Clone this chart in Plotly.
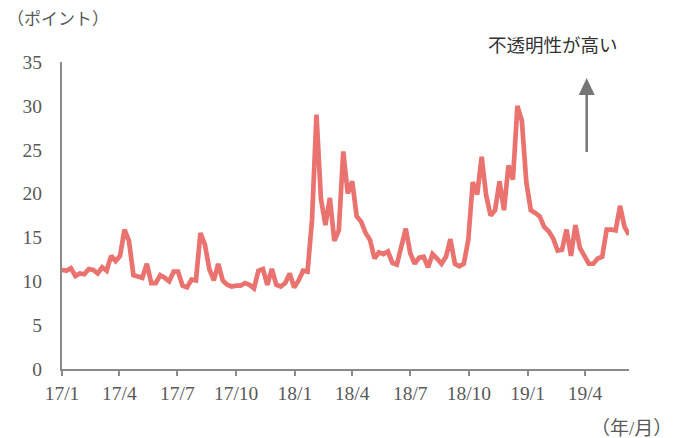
import pandas as pd
import plotly.graph_objects as go

# 週次データ（2017/1〜2019/6）
start_date = "2017-01-01"
n_weeks = 128
vix = [
    11.3, 11.2, 11.5, 10.6, 10.9, 10.8, 11.4, 11.3, 10.9, 11.6,
    11.2, 12.9, 12.3, 12.9, 15.9, 14.6, 10.7, 10.5, 10.4, 12.0,
    9.8, 9.8, 10.7, 10.4, 10.0, 11.1, 11.1, 9.5, 9.3, 10.2,
    10.1, 15.5, 14.2, 11.4, 10.1, 12.0, 10.1, 9.6, 9.4, 9.5,
    9.5, 9.8, 9.6, 9.2, 11.2, 11.4, 9.6, 11.4, 9.6, 9.4,
    9.8, 10.9, 9.3, 10.1, 11.2, 11.1, 17.0, 29.0, 19.4, 16.4,
    19.5, 14.6, 15.8, 24.8, 20.0, 21.4, 17.4, 16.8, 15.5, 14.7,
    12.6, 13.3, 13.1, 13.4, 12.1, 11.9, 13.8, 16.0, 13.2, 12.0,
    12.7, 12.8, 11.6, 13.1, 12.6, 12.0, 12.8, 14.8, 12.0, 11.7,
    12.0, 14.7, 21.3, 19.9, 24.2, 19.8, 17.5, 18.1, 21.4, 18.1,
    23.2, 21.6, 30.0, 28.3, 21.3, 18.1, 17.8, 17.4, 16.2, 15.7,
    14.9, 13.5, 13.6, 15.9, 12.9, 16.4, 13.8, 12.9, 12.0, 12.0,
    12.6, 12.8, 15.9, 15.9, 15.8, 18.6, 16.2, 15.3,
]
tick_dates = ["2017-01-01", "2017-04-01", "2017-07-01", "2017-10-01", "2018-01-01",
              "2018-04-01", "2018-07-01", "2018-10-01", "2019-01-01", "2019-04-01"]
tick_labels = ["17/1", "17/4", "17/7", "17/10", "18/1",
               "18/4", "18/7", "18/10", "19/1", "19/4"]
y_ticks = [0, 5, 10, 15, 20, 25, 30, 35]

dates = pd.date_range(start_date, periods=n_weeks, freq="7D")

FONT = "Liberation Serif, Noto Sans CJK JP"
GREY = "#595959"
AXIS = "#8a8a8a"

fig = go.Figure()
fig.add_trace(go.Scatter(
    x=dates, y=vix, mode="lines",
    line=dict(color="#ea7370", width=4.7),
    hoverinfo="skip", showlegend=False,
))

# ページ上の位置（body の余白 8px を差し引く）
OFF = 8
L, R, T, B = 62 - OFF, 629 - OFF, 62 - OFF, 369 - OFF
W, H = 675 - OFF, 438 - OFF


def px(xp):
    return (xp - OFF - L) / (R - L)


def py(yp):
    return (B - (yp - OFF)) / (B - T)


# 矢印（不透明性が高い）
ax_x = 586.7
fig.add_shape(type="line", xref="paper", yref="paper",
              x0=px(ax_x), x1=px(ax_x), y0=py(152), y1=py(93),
              line=dict(color="#767676", width=2.5))
fig.add_shape(type="path", xref="paper", yref="paper",
              path=f"M {px(ax_x - 8)},{py(95)} L {px(ax_x + 8)},{py(95)} L {px(ax_x)},{py(78)} Z",
              fillcolor="#767676", line=dict(width=0))

fig.add_annotation(text="不透明性が高い", xref="paper", yref="paper",
                   x=px(552.5), y=py(46), showarrow=False,
                   xanchor="center", yanchor="middle",
                   font=dict(family=FONT, size=18.5, color="#333333"))
fig.add_annotation(text="（ポイント）", xref="paper", yref="paper",
                   x=px(57.5), y=py(20), showarrow=False,
                   xanchor="center", yanchor="middle",
                   font=dict(family=FONT, size=17, color=GREY))
fig.add_annotation(text="（年/月）", xref="paper", yref="paper",
                   x=px(631.7), y=py(428), showarrow=False,
                   xanchor="center", yanchor="middle",
                   font=dict(family=FONT, size=19, color=GREY))

fig.update_layout(
    width=W, height=H,
    margin=dict(l=L, r=W - R, t=T, b=H - B),
    plot_bgcolor="white", paper_bgcolor="white",
    font=dict(family=FONT, color=GREY, size=19.5),
)
fig.update_xaxes(
    type="date", range=["2017-01-01", "2019-06-09"],
    tickvals=tick_dates, ticktext=tick_labels,
    showgrid=False, zeroline=False,
    showline=True, linecolor=AXIS, linewidth=2,
    ticks="outside", ticklen=5, tickwidth=2, tickcolor=AXIS,
    ticklabelstandoff=1,
    tickfont=dict(family=FONT, size=19.5, color=GREY),
)
fig.update_yaxes(
    range=[0, 35], tickvals=y_ticks,
    showgrid=False, zeroline=False,
    showline=True, linecolor=AXIS, linewidth=2,
    ticks="", ticklabelstandoff=14,
    tickfont=dict(family=FONT, size=19.5, color=GREY),
)

fig.write_html("out.html")
